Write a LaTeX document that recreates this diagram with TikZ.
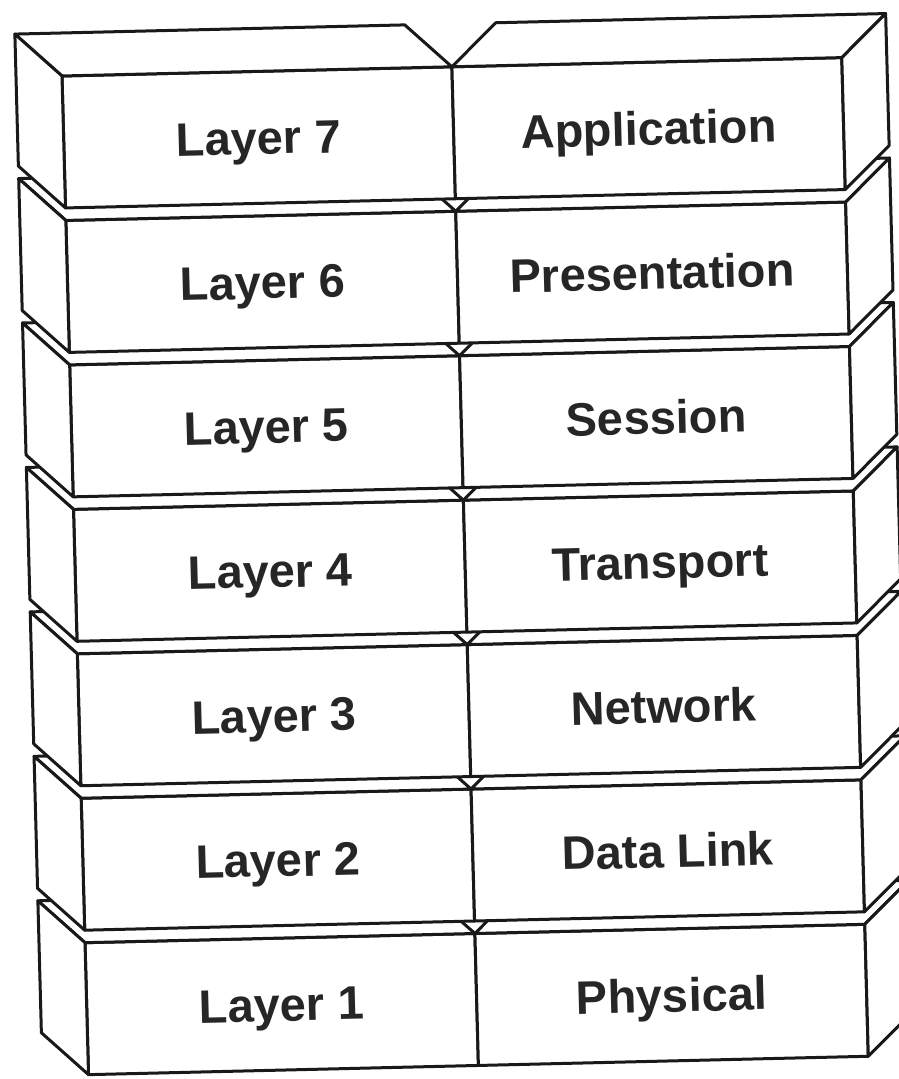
\documentclass[tikz,border=0pt]{standalone}
\usepackage{fontspec}
\setmainfont{Liberation Sans}

\begin{document}
\begin{tikzpicture}[x=1pt, y=1pt, line width=3pt, line join=round,
  front/.style={rectangle, draw=black!90, fill=white, minimum width=390pt, minimum height=132pt, inner sep=0pt, outer sep=0pt, text=black!85, font=\fontsize{47}{50}\selectfont\bfseries, text height=34pt, text depth=0pt, transform shape},
  bevel/.style={draw=black!90, fill=white}]
\clip (0,0) rectangle (899,1079);
\fill[white] (0,0) rectangle (899,1079);
\begin{scope}[shift={(62,1003)}, cm={0.99972,0.02356,-0.02653,0.99965,(0,0)}]
% Layer 1
\node [front] (l1) at (195,-933) {Layer 1};
\node [front] (r1) at (585,-933) {Physical};
\filldraw[bevel] (l1.north west) -- ++(-46,43) -- ++(390,0) -- (l1.north east) -- cycle;
\filldraw[bevel] (l1.north west) -- ++(-46,43) -- ++(0,-132) -- (l1.south west) -- cycle;
\filldraw[bevel] (r1.north west) -- ++(45,43) -- ++(390,0) -- (r1.north east) -- cycle;
\filldraw[bevel] (r1.north east) -- ++(45,43) -- ++(0,-132) -- (r1.south east) -- cycle;
% Layer 2
\node [front] (l2) at (195,-788.5) {Layer 2};
\node [front] (r2) at (585,-788.5) {Data Link};
\filldraw[bevel] (l2.north west) -- ++(-46,43) -- ++(390,0) -- (l2.north east) -- cycle;
\filldraw[bevel] (l2.north west) -- ++(-46,43) -- ++(0,-132) -- (l2.south west) -- cycle;
\filldraw[bevel] (r2.north west) -- ++(45,43) -- ++(390,0) -- (r2.north east) -- cycle;
\filldraw[bevel] (r2.north east) -- ++(45,43) -- ++(0,-132) -- (r2.south east) -- cycle;
% Layer 3
\node [front] (l3) at (195,-644) {Layer 3};
\node [front] (r3) at (585,-644) {Network};
\filldraw[bevel] (l3.north west) -- ++(-46,43) -- ++(390,0) -- (l3.north east) -- cycle;
\filldraw[bevel] (l3.north west) -- ++(-46,43) -- ++(0,-132) -- (l3.south west) -- cycle;
\filldraw[bevel] (r3.north west) -- ++(45,43) -- ++(390,0) -- (r3.north east) -- cycle;
\filldraw[bevel] (r3.north east) -- ++(45,43) -- ++(0,-132) -- (r3.south east) -- cycle;
% Layer 4
\node [front] (l4) at (195,-499.5) {Layer 4};
\node [front] (r4) at (585,-499.5) {Transport};
\filldraw[bevel] (l4.north west) -- ++(-46,43) -- ++(390,0) -- (l4.north east) -- cycle;
\filldraw[bevel] (l4.north west) -- ++(-46,43) -- ++(0,-132) -- (l4.south west) -- cycle;
\filldraw[bevel] (r4.north west) -- ++(45,43) -- ++(390,0) -- (r4.north east) -- cycle;
\filldraw[bevel] (r4.north east) -- ++(45,43) -- ++(0,-132) -- (r4.south east) -- cycle;
% Layer 5
\node [front] (l5) at (195,-355) {Layer 5};
\node [front] (r5) at (585,-355) {Session};
\filldraw[bevel] (l5.north west) -- ++(-46,43) -- ++(390,0) -- (l5.north east) -- cycle;
\filldraw[bevel] (l5.north west) -- ++(-46,43) -- ++(0,-132) -- (l5.south west) -- cycle;
\filldraw[bevel] (r5.north west) -- ++(45,43) -- ++(390,0) -- (r5.north east) -- cycle;
\filldraw[bevel] (r5.north east) -- ++(45,43) -- ++(0,-132) -- (r5.south east) -- cycle;
% Layer 6
\node [front] (l6) at (195,-210.5) {Layer 6};
\node [front] (r6) at (585,-210.5) {Presentation};
\filldraw[bevel] (l6.north west) -- ++(-46,43) -- ++(390,0) -- (l6.north east) -- cycle;
\filldraw[bevel] (l6.north west) -- ++(-46,43) -- ++(0,-132) -- (l6.south west) -- cycle;
\filldraw[bevel] (r6.north west) -- ++(45,43) -- ++(390,0) -- (r6.north east) -- cycle;
\filldraw[bevel] (r6.north east) -- ++(45,43) -- ++(0,-132) -- (r6.south east) -- cycle;
% Layer 7
\node [front] (l7) at (195,-66) {Layer 7};
\node [front] (r7) at (585,-66) {Application};
\filldraw[bevel] (l7.north west) -- ++(-46,43) -- ++(390,0) -- (l7.north east) -- cycle;
\filldraw[bevel] (l7.north west) -- ++(-46,43) -- ++(0,-132) -- (l7.south west) -- cycle;
\filldraw[bevel] (r7.north west) -- ++(45,43) -- ++(390,0) -- (r7.north east) -- cycle;
\filldraw[bevel] (r7.north east) -- ++(45,43) -- ++(0,-132) -- (r7.south east) -- cycle;
\end{scope}
\end{tikzpicture}
\end{document}
